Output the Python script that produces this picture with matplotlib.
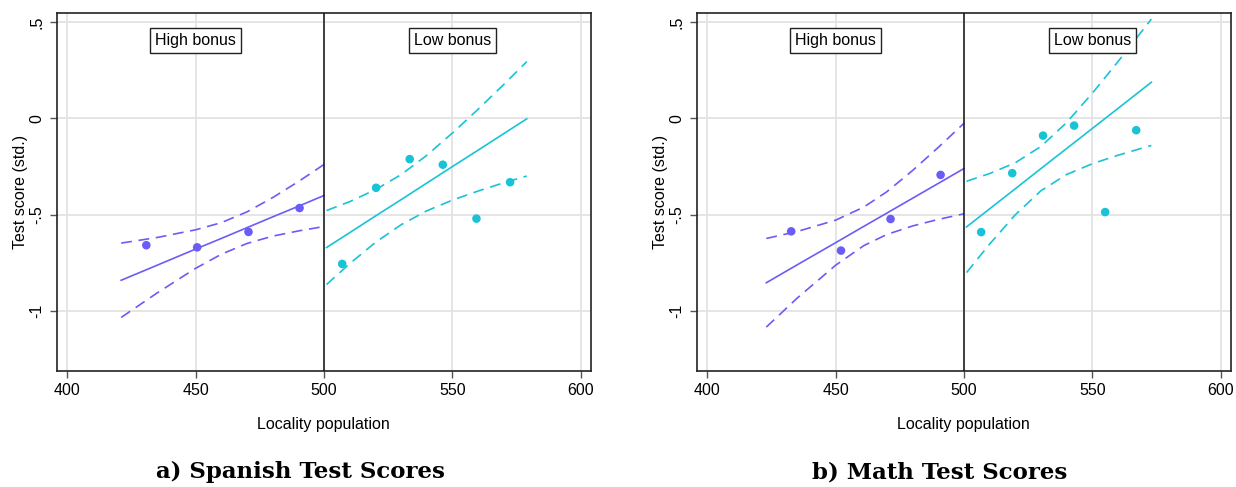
import matplotlib.pyplot as plt

plt.rcParams['font.family'] = ['Liberation Sans', 'DejaVu Sans']

PURPLE = '#6c5cf7'
CYAN = '#19c3d6'

# ---- a) Spanish ----
sp_hi_x = [430.8, 450.6, 470.6, 490.5]
sp_hi_y = [-0.659, -0.670, -0.590, -0.466]
sp_lo_x = [507.1, 520.3, 533.4, 546.3, 559.4, 572.5]
sp_lo_y = [-0.756, -0.361, -0.212, -0.241, -0.521, -0.332]

sp_hi_fx = [421, 435, 450, 460, 470, 480, 490, 500]
sp_hi_fit = [-0.841, -0.763, -0.679, -0.624, -0.568, -0.512, -0.457, -0.401]
sp_hi_up = [-0.648, -0.619, -0.579, -0.542, -0.486, -0.412, -0.329, -0.240]
sp_hi_lo = [-1.034, -0.907, -0.779, -0.706, -0.650, -0.612, -0.585, -0.562]

sp_lo_fx = [501, 510, 520, 530, 540, 550, 560, 570, 579]
sp_lo_fit = [-0.671, -0.594, -0.508, -0.423, -0.337, -0.251, -0.166, -0.080, -0.003]
sp_lo_up = [-0.479, -0.433, -0.371, -0.293, -0.193, -0.077, 0.046, 0.175, 0.294]
sp_lo_lo = [-0.863, -0.755, -0.645, -0.553, -0.481, -0.425, -0.378, -0.335, -0.300]

# ---- b) Math ----
ma_hi_x = [432.7, 452.1, 471.4, 490.9]
ma_hi_y = [-0.587, -0.687, -0.523, -0.294]
ma_lo_x = [506.7, 518.8, 530.8, 542.9, 555.0, 567.1]
ma_lo_y = [-0.591, -0.285, -0.090, -0.038, -0.487, -0.062]

ma_hi_fx = [423, 435, 450, 461, 470, 480, 490, 500]
ma_hi_fit = [-0.854, -0.761, -0.646, -0.561, -0.492, -0.415, -0.338, -0.261]
ma_hi_up = [-0.624, -0.588, -0.529, -0.461, -0.381, -0.271, -0.151, -0.026]
ma_hi_lo = [-1.084, -0.934, -0.763, -0.661, -0.603, -0.559, -0.525, -0.496]

ma_lo_fx = [501, 510, 520, 530, 540, 550, 560, 573]
ma_lo_fit = [-0.564, -0.470, -0.366, -0.261, -0.157, -0.053, 0.051, 0.187]
ma_lo_up = [-0.327, -0.287, -0.231, -0.146, -0.022, 0.130, 0.294, 0.515]
ma_lo_lo = [-0.801, -0.653, -0.501, -0.376, -0.292, -0.236, -0.192, -0.141]

xticks = [400, 450, 500, 550, 600]
yticks = [0.5, 0, -0.5, -1]
ytick_labels = ['.5', '0', '-.5', '-1']
captions = ['a) Spanish Test Scores', 'b) Math Test Scores']

panels = [
    (sp_hi_x, sp_hi_y, sp_lo_x, sp_lo_y, sp_hi_fx, sp_hi_fit, sp_hi_up, sp_hi_lo,
     sp_lo_fx, sp_lo_fit, sp_lo_up, sp_lo_lo),
    (ma_hi_x, ma_hi_y, ma_lo_x, ma_lo_y, ma_hi_fx, ma_hi_fit, ma_hi_up, ma_hi_lo,
     ma_lo_fx, ma_lo_fit, ma_lo_up, ma_lo_lo),
]

fig = plt.figure(figsize=(12.36, 4.87), dpi=100, facecolor='white')
lefts = [0.0459, 0.5637]
caption_x = [300 / 1236, 940 / 1236]
dash = (0, (6.5, 4))

for i, p in enumerate(panels):
    (hx, hy, lx, ly, hfx, hfit, hup, hlo, lfx, lfit, lup, llo) = p
    ax = fig.add_axes([lefts[i], 0.2382, 0.4320, 0.7357])
    ax.set_xlim(395.9, 603.9)
    ax.set_ylim(-1.312, 0.548)
    ax.set_xticks(xticks)
    ax.set_yticks(yticks)
    ax.set_yticklabels(ytick_labels, rotation=90, va='center')
    ax.grid(True, color='#e3e3e3', linewidth=1.3)
    ax.set_axisbelow(True)
    ax.tick_params(direction='out', length=5, width=1, color='#555555',
                   labelsize=11.5, pad=4)
    for s in ax.spines.values():
        s.set_linewidth(1.2)
        s.set_color('#222222')

    # high bonus side
    ax.plot(hfx, hfit, color=PURPLE, lw=1.2)
    ax.plot(hfx, hup, color=PURPLE, lw=1.2, ls=dash)
    ax.plot(hfx, hlo, color=PURPLE, lw=1.2, ls=dash)
    ax.scatter(hx, hy, s=38, color=PURPLE, zorder=3, edgecolors='none')
    # low bonus side
    ax.plot(lfx, lfit, color=CYAN, lw=1.2)
    ax.plot(lfx, lup, color=CYAN, lw=1.2, ls=dash)
    ax.plot(lfx, llo, color=CYAN, lw=1.2, ls=dash)
    ax.scatter(lx, ly, s=38, color=CYAN, zorder=3, edgecolors='none')

    ax.axvline(500, color='#111111', lw=1.1, zorder=4)

    box = dict(boxstyle='square,pad=0.3', fc='white', ec='#222222', lw=1)
    ax.text(450, 0.405, 'High bonus', ha='center', va='center', fontsize=11.5, bbox=box)
    ax.text(550, 0.405, 'Low bonus', ha='center', va='center', fontsize=11.5, bbox=box)

    ax.set_xlabel('Locality population', fontsize=11.5, labelpad=13)
    ax.set_ylabel('Test score (std.)', fontsize=11.5, labelpad=1)

    fig.text(caption_x[i], 0.03, captions[i], ha='center', va='center',
             fontsize=16.5, fontweight='bold', family=['DejaVu Serif'])

fig.savefig('out.png', dpi=100, facecolor='white')
